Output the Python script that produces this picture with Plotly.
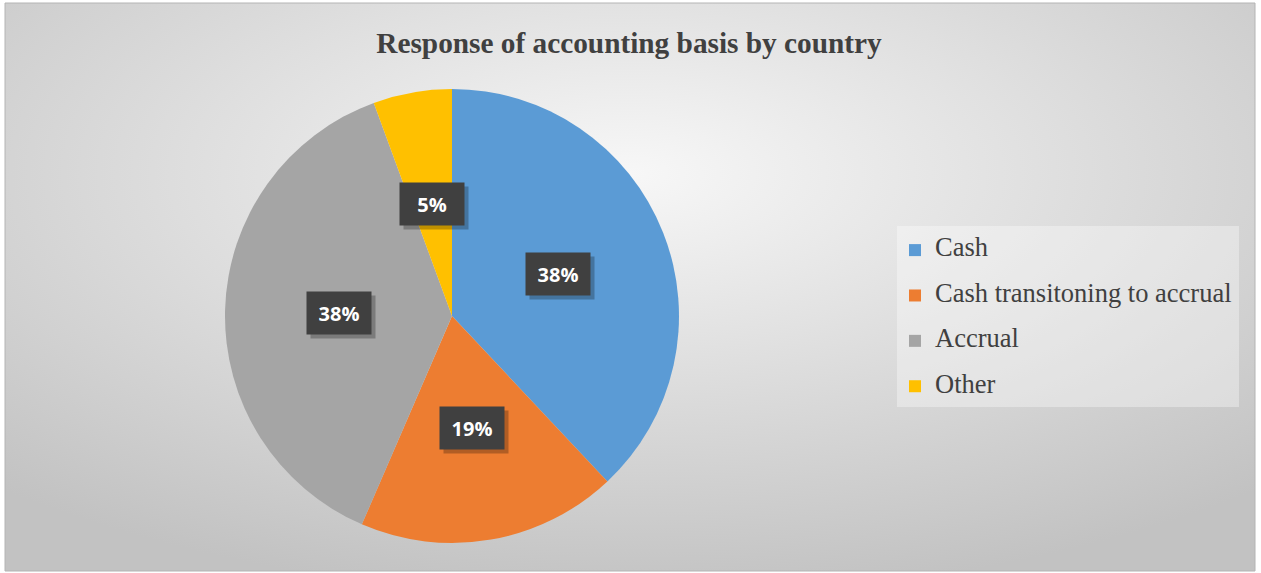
import math
import base64
import plotly.graph_objects as go

# ---- data ----
categories = ["Cash", "Cash transitoning to accrual", "Accrual", "Other"]
shares = [38.0, 18.5, 37.9, 5.6]          # slice sizes (%)
pct_labels = ["38%", "19%", "38%", "5%"]  # data-label texts as printed
colors = ["#5B9BD5", "#ED7D31", "#A5A5A5", "#FFC000"]
title_text = "Response of accounting basis by country"

# ---- geometry ----
W, H = 1261, 573
CX, CY, R = 452, 316, 227  # pie centre / radius in pixels

dom_x = [(CX - R) / W, (CX + R) / W]
dom_y = [(H - CY - R) / H, (H - CY + R) / H]

# legend labels (larger text, extra blank line for Excel-like spacing)
legend_labels = [f"<span style='font-size:26.5px'>{c}</span><br> " for c in categories]

fig = go.Figure()
fig.add_trace(go.Pie(
    labels=legend_labels,
    values=shares,
    sort=False,
    direction="clockwise",
    rotation=0,
    marker=dict(colors=colors, line=dict(width=0)),
    textinfo="none",
    hoverinfo="skip",
    domain=dict(x=dom_x, y=dom_y),
    showlegend=True,
))

# data labels: dark boxes at half radius, from cumulative angles
total = sum(shares)
cum = 0
annotations = []
for v, lab in zip(shares, pct_labels):
    mid = (cum + v / 2) / total * 2 * math.pi
    cum += v
    r = 0.5 * R
    px = CX + r * math.sin(mid)
    py = CY - r * math.cos(mid)
    ax = px / W
    ay = (H - py) / H
    # shadow
    annotations.append(dict(
        x=ax, y=ay, xref="paper", yref="paper", text=f"<b>{lab}</b>", showarrow=False,
        xanchor="center", yanchor="middle",
        font=dict(family="Open Sans", size=20, color="rgba(0,0,0,0)"),
        bgcolor="rgba(0,0,0,0.25)", width=48, height=26, borderpad=8,
        xshift=4, yshift=-4,
    ))
    annotations.append(dict(
        x=ax, y=ay, xref="paper", yref="paper", text=f"<b>{lab}</b>", showarrow=False,
        xanchor="center", yanchor="middle",
        font=dict(family="Open Sans", size=20, color="#FFFFFF"),
        bgcolor="#404040", width=48, height=26, borderpad=8,
    ))

# background radial gradient
svg = """<svg xmlns='http://www.w3.org/2000/svg' width='1250' height='568' viewBox='0 0 1250 568'>
<defs><radialGradient id='g' cx='50%' cy='30%' r='75%'>
<stop offset='0%' stop-color='#f7f7f7'/><stop offset='100%' stop-color='#c2c2c2'/>
</radialGradient></defs>
<rect x='0' y='0' width='1250' height='568' fill='url(#g)'/></svg>"""
src = "data:image/svg+xml;base64," + base64.b64encode(svg.encode()).decode()

fig.update_layout(
    width=W, height=H,
    margin=dict(l=0, r=0, t=0, b=0),
    paper_bgcolor="#FFFFFF",
    title=dict(text=f"<b>{title_text}</b>", x=629 / W, xanchor="center",
               y=1 - 43 / H, yanchor="middle",
               font=dict(family="Liberation Serif", size=29.3, color="#404040")),
    legend=dict(
        x=895 / W, y=1 - 233 / H, xanchor="left", yanchor="top",
        bgcolor="rgba(0,0,0,0)",
        font=dict(family="Liberation Serif", size=16.3, color="#404040"),
        valign="top",
    ),
    annotations=annotations,
    images=[dict(source=src, xref="paper", yref="paper",
                 x=5 / W, y=1 - 3 / H, sizex=1250 / W, sizey=568 / H,
                 sizing="stretch", xanchor="left", yanchor="top", layer="below")],
    shapes=[
        dict(type="rect", xref="paper", yref="paper",
             x0=897 / W, x1=1239 / W, y0=1 - 407 / H, y1=1 - 226 / H,
             fillcolor="rgba(255,255,255,0.35)", line=dict(width=0), layer="below"),
        dict(type="rect", xref="paper", yref="paper",
             x0=5 / W, x1=1255 / W, y0=1 - 571 / H, y1=1 - 3 / H,
             line=dict(color="#b4b4b4", width=1), layer="above"),
    ],
)

fig.write_html("out.html")
